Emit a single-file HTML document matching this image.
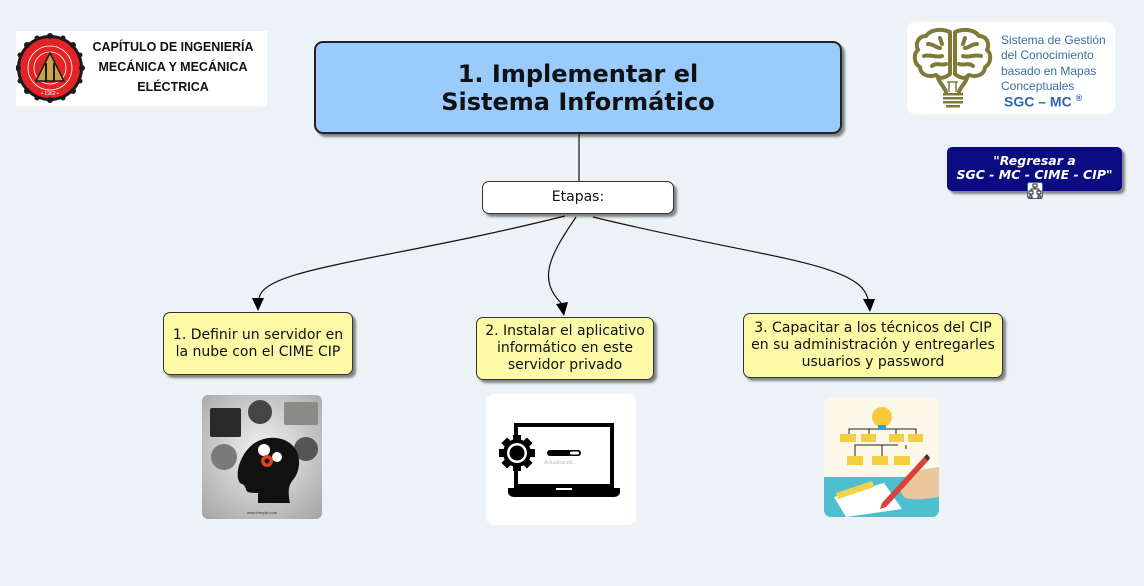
<!DOCTYPE html>
<html><head><meta charset="utf-8">
<style>
html,body{margin:0;padding:0}
body{width:1144px;height:586px;background:#ecf2f5;position:relative;overflow:hidden;font-family:"DejaVu Sans","Liberation Sans",sans-serif}
.abs{position:absolute;box-sizing:border-box}
.node{position:absolute;box-sizing:border-box;background:#fcfaa6;border:1px solid #333;border-radius:7px;box-shadow:3px 3px 2px rgba(0,0,0,0.45);font-size:14px;line-height:17px;text-align:center;color:#111;display:flex;align-items:center;justify-content:center}
</style></head><body>

<!-- left logo -->
<div class="abs" style="left:16px;top:31px;width:251px;height:75px;background:#fff"></div>
<svg class="abs" style="left:16px;top:33px" width="70" height="70" viewBox="0 0 70 70">
  <circle cx="34" cy="35" r="33" fill="#1a1a1a"/>
  <circle cx="34" cy="35" r="30" fill="#e42424"/>
  <g fill="#1a1a1a">
    <circle cx="34" cy="3" r="3"/><circle cx="34" cy="67" r="3"/><circle cx="2" cy="35" r="3"/><circle cx="66" cy="35" r="3"/>
    <circle cx="11" cy="12" r="3"/><circle cx="57" cy="12" r="3"/><circle cx="11" cy="58" r="3"/><circle cx="57" cy="58" r="3"/>
    <circle cx="21" cy="5" r="2.5"/><circle cx="47" cy="5" r="2.5"/><circle cx="4" cy="22" r="2.5"/><circle cx="64" cy="22" r="2.5"/>
    <circle cx="4" cy="48" r="2.5"/><circle cx="64" cy="48" r="2.5"/><circle cx="21" cy="65" r="2.5"/><circle cx="47" cy="65" r="2.5"/>
  </g>
  <circle cx="34" cy="35" r="22" fill="none" stroke="#fff" stroke-width="0.8"/>
  <circle cx="34" cy="35" r="16" fill="none" stroke="#fff" stroke-width="0.8"/>
  <polygon points="34,20 20,48 48,48" fill="#c9a24a" stroke="#1a1a1a" stroke-width="1.5"/>
  <line x1="30" y1="30" x2="30" y2="48" stroke="#1a1a1a" stroke-width="2"/>
  <line x1="38" y1="30" x2="38" y2="48" stroke="#1a1a1a" stroke-width="2"/>
  <text x="34" y="62" font-size="5" fill="#fff" text-anchor="middle" font-family="Liberation Sans, sans-serif">• 1962 •</text>
</svg>
<div class="abs" style="left:82px;top:37px;width:182px;text-align:center;font-family:'Liberation Sans',sans-serif;font-weight:bold;font-size:12.5px;line-height:20px;color:#111">CAPÍTULO DE INGENIERÍA<br>MECÁNICA Y MECÁNICA<br>ELÉCTRICA</div>

<!-- right logo -->
<div class="abs" style="left:907px;top:22px;width:208px;height:92px;background:#fff;border-radius:8px"></div>
<svg class="abs" style="left:910px;top:26px" width="85" height="84" viewBox="0 0 85 84">
  <g fill="none" stroke="#807a38" stroke-width="4" stroke-linecap="round" stroke-linejoin="round">
    <path d="M40 6 C30 2 20 4 16 10 C8 10 5 18 8 24 C3 28 4 38 10 41 C10 48 18 52 26 49 L30 52 C34 52 38 50 40 48 Z"/>
    <path d="M45 6 C55 2 65 4 69 10 C77 10 80 18 77 24 C82 28 81 38 75 41 C75 48 67 52 59 49 L55 52 C51 52 47 50 45 48 Z"/>
    <path d="M18 18 C24 18 26 22 30 22 M14 30 C20 28 26 32 32 30 M22 40 C26 36 32 40 36 38 M30 12 L32 18"/>
    <path d="M67 18 C61 18 59 22 55 22 M71 30 C65 28 59 32 53 30 M63 40 C59 36 53 40 49 38 M55 12 L53 18"/>
    <path d="M28 52 C30 58 34 60 36 66 M57 52 C55 58 51 60 49 66"/>
  </g>
  <g stroke="#807a38" stroke-width="1.5" fill="none"><path d="M39 66 L39 56 L46 56 L46 66 M37 56 L48 56"/></g>
  <g fill="#807a38"><rect x="33" y="67" width="20" height="2.5"/><rect x="33" y="71" width="20" height="2.5"/><rect x="33" y="75" width="20" height="2.5"/><rect x="36" y="79" width="14" height="2.5"/></g>
</svg>
<div class="abs" style="left:1001px;top:33px;font-family:'Liberation Sans',sans-serif;font-size:12px;line-height:15.3px;color:#3a6ea6;white-space:nowrap">Sistema de Gestión<br>del Conocimiento<br>basado en Mapas<br>Conceptuales</div>
<div class="abs" style="left:1004px;top:93px;font-family:'Liberation Sans',sans-serif;font-size:14px;font-weight:bold;color:#2f66aa;white-space:nowrap">SGC – MC <sup style="font-size:9px">®</sup></div>

<!-- regresar -->
<div class="abs" style="left:947px;top:147px;width:175px;height:44px;background:#0c0c82;border-radius:5px;box-shadow:3px 3px 2px rgba(0,0,0,0.45);color:#fff;font-weight:bold;font-style:italic;font-size:12.5px;line-height:14px;text-align:center;padding-top:7px">"Regresar a<br>SGC - MC - CIME - CIP"</div>
<svg class="abs" style="left:1027px;top:182px" width="16" height="17" viewBox="0 0 16 17">
  <rect x="0.5" y="0.5" width="15" height="16" rx="2" fill="#fff" stroke="#3a6ea6"/>
  <g stroke="#222" fill="none" stroke-width="1"><rect x="6" y="2" width="4" height="3"/><path d="M8 5 V7 M4 7 H12 M4 7 V9 M12 7 V9"/><rect x="2" y="9" width="4" height="3"/><rect x="10" y="9" width="4" height="3"/><path d="M4 12 V14 M12 12 V14"/><rect x="2" y="14" width="3" height="2"/><rect x="11" y="14" width="3" height="2"/></g>
</svg>

<!-- main box -->
<div class="abs" style="left:314px;top:41px;width:528px;height:93px;background:#99ccfd;border:2px solid #222;border-radius:9px;box-shadow:3px 3px 2px rgba(0,0,0,0.45);font-weight:bold;font-size:24px;line-height:28px;text-align:center;color:#111;display:flex;align-items:center;justify-content:center">1. Implementar el<br>Sistema Informático</div>

<!-- connectors -->
<svg class="abs" style="left:0;top:0" width="1144" height="586">
  <line x1="579" y1="134" x2="579" y2="182" stroke="#111" stroke-width="1.2"/>
  <g fill="none" stroke="#111" stroke-width="1.2">
    <path d="M565 216 C380 262 262 268 259 299"/>
    <path d="M576 217 C548 258 538 280 562 304"/>
    <path d="M593 217 C760 258 862 262 868 300"/>
  </g>
  <g fill="#000">
    <polygon points="252,298 264,298 258,311"/>
    <polygon points="556,304 568,302 564,316"/>
    <polygon points="863,299 875,299 870,312"/>
  </g>
</svg>

<!-- etapas -->
<div class="abs" style="left:482px;top:181px;width:192px;height:33px;background:#fff;border:1px solid #333;border-radius:7px;box-shadow:3px 3px 2px rgba(0,0,0,0.45);font-size:14px;text-align:center;line-height:31px;color:#111">Etapas:</div>

<!-- nodes -->
<div class="node" style="left:163px;top:312px;width:190px;height:63px">1. Definir un servidor en<br>la nube con el CIME CIP</div>
<div class="node" style="left:476px;top:317px;width:178px;height:63px">2. Instalar el aplicativo<br>informático en este<br>servidor privado</div>
<div class="node" style="left:743px;top:313px;width:260px;height:65px">3. Capacitar a los técnicos del CIP<br>en su administración y entregarles<br>usuarios y password</div>

<!-- image 1: head -->
<svg class="abs" style="left:202px;top:395px" width="120" height="124" viewBox="0 0 120 124">
  <defs><radialGradient id="g1" cx="0.5" cy="0.45" r="0.7"><stop offset="0" stop-color="#f2f2f2"/><stop offset="1" stop-color="#a8a8a8"/></radialGradient></defs>
  <rect x="0" y="0" width="120" height="124" rx="6" fill="url(#g1)"/>
  <rect x="8" y="13" width="31" height="29" rx="2" fill="#2a2a2a"/>
  <circle cx="58" cy="17" r="12" fill="#454545"/>
  <rect x="82" y="7" width="34" height="23" rx="2" fill="#8a8a86"/>
  <circle cx="104" cy="54" r="12" fill="#555"/>
  <circle cx="22" cy="62" r="13" fill="#7a7a7a"/>
  <path d="M38 88 C32 80 38 60 50 50 C62 40 82 40 92 52 C100 62 98 78 90 86 C86 92 86 98 88 108 L56 108 L56 98 C50 98 44 98 44 94 L42 90 L38 88 Z" fill="#111"/>
  <circle cx="62" cy="55" r="6" fill="#fff"/>
  <circle cx="75" cy="62" r="5" fill="#fff"/>
  <circle cx="65" cy="66" r="6" fill="#e0401c"/>
  <circle cx="65" cy="66" r="2.5" fill="#111"/>
  <text x="60" y="119" font-size="4" text-anchor="middle" fill="#333" font-family="Liberation Sans,sans-serif">www.freepik.com</text>
</svg>

<!-- image 2: laptop -->
<svg class="abs" style="left:486px;top:394px" width="150" height="131" viewBox="0 0 150 131">
  <rect x="0" y="0" width="150" height="131" rx="8" fill="#fff"/>
  <path d="M30 44 V31 H126 V92 H30 V74" fill="none" stroke="#000" stroke-width="4"/>
  <path d="M22 94 H134 V98 C134 101 131 103 128 103 H28 C25 103 22 101 22 98 Z" fill="#000"/>
  <rect x="70" y="94" width="16" height="2" fill="#fff"/>
  <g transform="translate(31,59)">
    <g fill="#000">
      <circle r="14"/>
      <rect x="-4" y="-18" width="8" height="36"/>
      <rect x="-18" y="-4" width="36" height="8"/>
      <rect x="-4" y="-18" width="8" height="36" transform="rotate(45)"/>
      <rect x="-4" y="-18" width="8" height="36" transform="rotate(-45)"/>
    </g>
    <circle r="10" fill="#fff"/>
    <circle r="7.5" fill="#000"/>
  </g>
  <rect x="61" y="56" width="34" height="6" rx="3" fill="#000"/>
  <rect x="84" y="57.5" width="9" height="3" rx="1.5" fill="#fff"/>
  <text x="58" y="70" font-size="5" fill="#bbb" font-family="Liberation Sans,sans-serif">Actualizando...</text>
</svg>

<!-- image 3: org chart -->
<svg class="abs" style="left:824px;top:397px" width="115" height="120" viewBox="0 0 115 120">
  <defs><clipPath id="c3"><rect x="0" y="0" width="115" height="120" rx="7"/></clipPath></defs>
  <g clip-path="url(#c3)">
    <rect x="0" y="0" width="115" height="120" fill="#fbf8ea"/>
    <rect x="0" y="80" width="115" height="40" fill="#4ebfcf"/>
    <g stroke="#222" stroke-width="1" fill="none">
      <path d="M25 40 V32 H92 V40 M45 32 V40 M72 32 V40"/>
      <path d="M31 59 V48 H74 M58 48 V59 M82 48 V52"/>
    </g>
    <circle cx="58" cy="20" r="10" fill="#f8c93a"/>
    <rect x="54" y="28" width="8" height="5" fill="#3aa0c8"/>
    <g fill="#f3cf3f">
      <rect x="16" y="37" width="16" height="8"/><rect x="37" y="37" width="15" height="8"/>
      <rect x="65" y="37" width="15" height="8"/><rect x="84" y="37" width="15" height="8"/>
      <rect x="23" y="59" width="16" height="9"/><rect x="48" y="59" width="16" height="9"/><rect x="70" y="59" width="16" height="9"/>
    </g>
    <polygon points="10,100 60,86 78,112 22,120" fill="#fff"/>
    <polygon points="12,96 48,84 50,90 14,102" fill="#f3d24a"/>
    <path d="M75 92 C78 82 90 74 102 72 L115 70 L115 100 C100 102 88 104 80 100 Z" fill="#ecc79c"/>
    <polygon points="100,60 104,64 62,110 56,112 58,106" fill="#d9413c"/>
    <polygon points="100,60 104,64 106,61 103,57" fill="#333"/>
  </g>
</svg>

</body></html>
